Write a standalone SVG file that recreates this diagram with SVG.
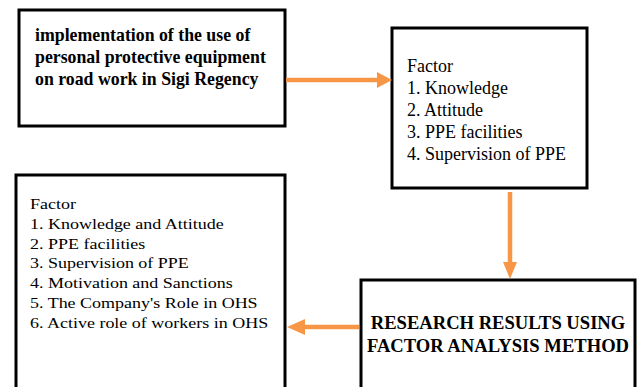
<svg xmlns="http://www.w3.org/2000/svg" width="638" height="387" viewBox="0 0 638 387">
<style>
.box{fill:#fff;stroke:#000;stroke-width:3}
.t{font-family:"Liberation Serif","Times New Roman",serif;fill:#000}
.b1{font-weight:bold;font-size:17.8px}
.b4{font-weight:bold;font-size:18.6px}
.r{font-size:18px}
.s{font-size:15px}
.arr{stroke:#f79646;stroke-width:4.5;fill:none}
.head{fill:#f79646}
</style>
<rect width="638" height="387" fill="#fff"/>
<g id="n1">
<rect class="box" x="19" y="10" width="266" height="116"/>
<text class="t b1" x="35" y="41">implementation of the use of</text>
<text class="t b1" x="35" y="63">personal protective equipment</text>
<text class="t b1" x="35" y="85">on road work in Sigi Regency</text>
</g>
<g id="n2">
<rect class="box" x="392" y="28" width="195" height="160"/>
<text class="t r" x="407" y="72">Factor</text>
<text class="t r" x="407" y="94">1. Knowledge</text>
<text class="t r" x="407" y="116">2. Attitude</text>
<text class="t r" x="407" y="138">3. PPE facilities</text>
<text class="t r" x="407" y="160">4. Supervision of PPE</text>
</g>
<g id="n3">
<rect class="box" x="16" y="175" width="269" height="230"/>
<g transform="translate(30,0) scale(1.2,1)">
<text class="t s" x="0" y="209">Factor</text>
<text class="t s" x="0" y="229">1. Knowledge and Attitude</text>
<text class="t s" x="0" y="249">2. PPE facilities</text>
<text class="t s" x="0" y="268">3. Supervision of PPE</text>
<text class="t s" x="0" y="288">4. Motivation and Sanctions</text>
<text class="t s" x="0" y="308">5. The Company's Role in OHS</text>
<text class="t s" x="0" y="328">6. Active role of workers in OHS</text>
</g>
</g>
<g id="n4">
<rect class="box" x="361" y="280" width="274" height="130"/>
<text class="t b4" x="498" y="329" text-anchor="middle">RESEARCH RESULTS USING</text>
<text class="t b4" x="498" y="352" text-anchor="middle">FACTOR ANALYSIS METHOD</text>
</g>
<g id="connectors">
<line class="arr" x1="286" y1="80" x2="378" y2="80"/>
<polygon class="head" points="377,72 392,80 377,88"/>
<line class="arr" x1="510" y1="192" x2="510" y2="263"/>
<polygon class="head" points="503,262 510,279 517,262"/>
<line class="arr" x1="359" y1="327" x2="304" y2="327"/>
<polygon class="head" points="305,319 287,327 305,335"/>
</g>
</svg>
